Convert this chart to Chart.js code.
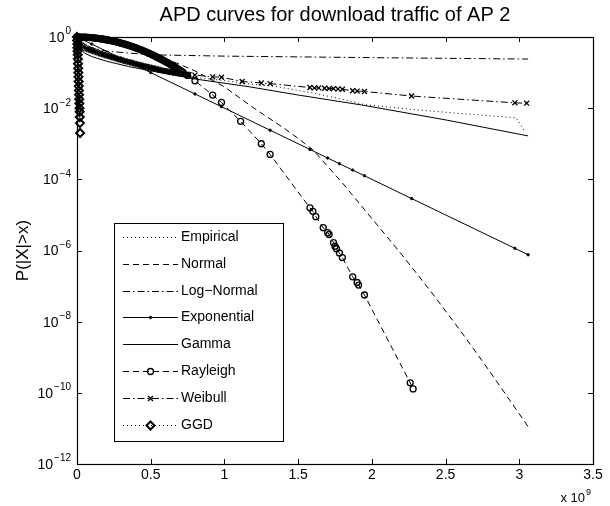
<!DOCTYPE html>
<html><head><meta charset="utf-8">
<script src="https://cdn.jsdelivr.net/npm/chart.js@4.4.0/dist/chart.umd.min.js"></script>
<style>html,body{margin:0;padding:0;background:#fff}canvas{display:block}</style>
</head><body>
<canvas id="c" width="610" height="506"></canvas>
<script>
// ---------- data (x in units of 10^9) ----------
const titleText = 'APD curves for download traffic of AP 2';
const yAxisTitle = 'P(|X|>x)';
const xExponentBase = 'x 10';
const xExponentPower = '9';
const seriesNames = ['Empirical','Normal','Log\u2212Normal','Exponential','Gamma','Rayleigh','Weibull','GGD'];
const xTickValues = [0,0.5,1,1.5,2,2.5,3,3.5];
const xTickLabels = ['0','0.5','1','1.5','2','2.5','3','3.5'];
const yTickValues = [1e-12,1e-10,1e-8,1e-6,1e-4,1e-2,1];
const yTickBase = '10';
const yTickPowers = ['\u221212','\u221210','\u22128','\u22126','\u22124','\u22122','0'];

const empiricalX = [0,0.05,0.15,0.3,0.45,0.63,0.95,1.17,1.33,1.5,1.63,1.8,1.95,2.26,2.6,2.98,3.02,3.04];
const empiricalY = [1,0.631,0.398,0.224,0.141,0.0851,0.0631,0.0479,0.0417,0.0316,0.0251,0.0178,0.0126,0.00933,0.00708,0.00537,0.00282,0.00214];

const normalX = [0,0.2,0.4,0.6,0.8,1.0,1.2,1.4,1.5,1.6,1.8,2.0,2.2,2.4,2.6,2.8,3.06];
const normalY = [1,0.759,0.479,0.251,0.112,0.0398,0.01,0.00282,0.00141,6.76e-4,7.94e-5,7.94e-6,7.94e-7,7.08e-8,5.62e-9,3.98e-10,1.12e-11];

const logNormalX = [0,0.02,0.05,0.1,0.2,0.35,0.5,1.0,2.0,3.06];
const logNormalY = [1,0.794,0.631,0.501,0.40,0.355,0.316,0.29,0.263,0.24];

const exponentialX = [0,0.1,0.3,0.5,0.8,0.98,1.31,1.58,1.70,1.78,1.87,1.95,2.27,2.97,3.06];
const exponentialY = [1,0.631,0.251,0.1,0.0251,0.011,0.0024,6.92e-4,3.98e-4,2.75e-4,1.82e-4,1.26e-4,2.88e-5,1.15e-6,7.59e-7];

const gammaX = [0,0.02,0.05,0.1,0.2,0.35,0.5,0.8,1.17,1.5,1.93,2.5,3.06];
const gammaY = [1,0.501,0.355,0.282,0.209,0.148,0.112,0.0661,0.0398,0.0234,0.0123,0.00468,0.00166];

const rayleighX = [0,0.01,0.02,0.03,0.04,0.05,0.06,0.07,0.08,0.09,0.10,0.11,0.12,0.13,0.14,0.15,0.16,0.17,0.18,0.19,
  0.20,0.21,0.22,0.23,0.24,0.25,0.26,0.27,0.28,0.29,0.30,0.31,0.32,0.33,0.34,0.35,0.36,0.37,0.38,0.39,
  0.40,0.41,0.42,0.43,0.44,0.45,0.46,0.47,0.48,0.49,0.50,0.51,0.52,0.53,0.54,0.55,0.56,0.57,0.58,0.59,
  0.60,0.61,0.62,0.63,0.64,0.65,0.66,0.67,0.68,0.69,0.70,0.71,0.72,
  0.75,0.80,0.92,0.98,1.11,1.25,1.31,1.58,1.60,1.62,1.67,1.70,1.71,1.74,1.75,1.76,1.78,1.80,1.87,1.90,1.91,1.95,2.26,2.28];
const rayleighY = [1,1.0,0.998,0.996,0.993,0.989,0.984,0.979,0.972,0.965,0.957,0.948,0.938,0.928,0.917,0.905,0.893,0.880,0.867,0.852,
  0.838,0.823,0.807,0.791,0.775,0.759,0.742,0.724,0.707,0.690,0.672,0.654,0.636,0.618,0.600,0.582,0.564,0.546,0.528,0.511,
  0.493,0.476,0.459,0.442,0.425,0.409,0.393,0.377,0.361,0.346,0.331,0.317,0.303,0.289,0.276,0.263,0.250,0.238,0.226,0.215,
  0.204,0.193,0.183,0.173,0.164,0.155,0.146,0.137,0.129,0.122,0.115,0.108,0.101,
  0.0832,0.0589,0.0234,0.0145,0.00427,0.001,5.01e-4,1.58e-5,1.26e-5,8.91e-6,4.37e-6,3.16e-6,2.82e-6,1.66e-6,1.32e-6,1.12e-6,8.51e-7,6.31e-7,1.82e-7,1.26e-7,1.07e-7,5.62e-8,1.91e-10,1.29e-10];

const weibullX = [0,0.005,0.01,0.02,0.03,0.04,0.05,0.06,0.07,0.08,0.09,0.10,0.11,0.12,0.13,0.14,0.15,0.16,0.17,0.18,0.19,
  0.20,0.21,0.22,0.23,0.24,0.25,0.26,0.27,0.28,0.29,0.30,0.31,0.32,0.33,0.34,0.35,0.36,0.37,0.38,0.39,
  0.40,0.41,0.42,0.43,0.44,0.45,0.46,0.47,0.48,0.49,0.50,0.51,0.52,0.53,0.54,0.55,0.56,0.57,0.58,0.59,
  0.60,0.61,0.62,0.63,0.64,0.65,0.66,0.67,0.68,0.69,0.70,0.71,0.72,0.73,0.74,0.75,0.76,
  0.80,0.92,0.98,1.12,1.25,1.31,1.58,1.61,1.64,1.68,1.71,1.74,1.77,1.80,1.87,1.90,1.95,2.27,2.97,3.05];
const weibullY = [1,0.794,0.708,0.631,0.589,0.550,0.513,0.479,0.463,0.447,0.432,0.417,0.403,0.389,0.376,0.363,0.351,0.339,0.329,0.320,0.311,
  0.302,0.293,0.285,0.277,0.269,0.261,0.254,0.247,0.240,0.233,0.226,0.220,0.214,0.209,0.204,0.199,0.195,0.189,0.184,0.179,
  0.174,0.170,0.166,0.162,0.158,0.154,0.151,0.148,0.145,0.141,0.138,0.135,0.132,0.129,0.126,0.123,0.120,0.117,0.115,0.113,
  0.111,0.109,0.107,0.105,0.104,0.102,0.100,0.0983,0.0966,0.0950,0.0933,0.0922,0.0912,0.0901,0.0891,0.0881,0.0871,
  0.0851,0.0759,0.0741,0.0562,0.0513,0.0490,0.0380,0.0372,0.0372,0.0363,0.0355,0.0355,0.0347,0.0339,0.0309,0.0302,0.0295,0.0219,0.0141,0.0138];

const ggdX = [0,0.001,0.002,0.003,0.004,0.005,0.006,0.007,0.008,0.009,0.010,0.011,0.012,0.013,0.014,0.015,0.016,0.017,0.018,0.019,0.020,0.021];
const ggdY = [1,0.794,0.631,0.501,0.398,0.316,0.240,0.178,0.132,0.1,0.0759,0.0562,0.0417,0.0316,0.0240,0.0178,0.0135,0.01,0.00794,0.00562,0.00380,0.00200];

// ---------- styling ----------
const FONT = '"Liberation Sans", Arial, Helvetica, sans-serif';
const pts = (xs, ys) => xs.map((x, i) => ({x: x, y: ys[i]}));
const DOT = [1, 3], DASH = [6, 4], DASHDOT = [7, 3, 1.5, 3];
const base = {showLine: true, borderColor: '#000', borderWidth: 1, tension: 0, clip: false,
  pointBorderColor: '#000', pointBackgroundColor: 'rgba(0,0,0,0)', pointRadius: 0, pointHoverRadius: 0};

const datasets = [
  Object.assign({}, base, {label: seriesNames[0], data: pts(empiricalX, empiricalY), borderDash: DOT, order: 8}),
  Object.assign({}, base, {label: seriesNames[1], data: pts(normalX, normalY), borderDash: DASH, order: 7}),
  Object.assign({}, base, {label: seriesNames[2], data: pts(logNormalX, logNormalY), borderDash: DASHDOT, order: 6}),
  Object.assign({}, base, {label: seriesNames[3], data: pts(exponentialX, exponentialY), borderDash: [], pointStyle: 'circle', pointRadius: 1.2, pointBorderWidth: 1, pointBackgroundColor: '#000', order: 5}),
  Object.assign({}, base, {label: seriesNames[4], data: pts(gammaX, gammaY), borderDash: [], order: 4}),
  Object.assign({}, base, {label: seriesNames[5], data: pts(rayleighX, rayleighY), borderDash: DASH, pointStyle: 'circle', pointRadius: 3, pointBorderWidth: 1.3, order: 3}),
  Object.assign({}, base, {label: seriesNames[6], data: pts(weibullX, weibullY), borderDash: DASHDOT, pointStyle: 'crossRot', pointRadius: 3.5, pointBorderWidth: 1.3, order: 2}),
  Object.assign({}, base, {label: seriesNames[7], data: pts(ggdX, ggdY), borderDash: DOT, pointStyle: 'rectRot', pointRadius: 4, pointBorderWidth: 2, order: 1})
];

function drawMarker(ctx, ds, x, y) {
  if (!ds.pointRadius) return;
  const r = ds.pointRadius;
  ctx.save();
  ctx.setLineDash([]);
  ctx.lineWidth = ds.pointBorderWidth || 1;
  ctx.strokeStyle = '#000';
  ctx.fillStyle = ds.pointBackgroundColor;
  ctx.beginPath();
  if (ds.pointStyle === 'circle') {
    ctx.arc(x, y, r, 0, Math.PI * 2);
    ctx.fill(); ctx.stroke();
  } else if (ds.pointStyle === 'crossRot') {
    const d = r * Math.SQRT1_2;
    ctx.moveTo(x - d, y - d); ctx.lineTo(x + d, y + d);
    ctx.moveTo(x - d, y + d); ctx.lineTo(x + d, y - d);
    ctx.stroke();
  } else if (ds.pointStyle === 'rectRot') {
    ctx.moveTo(x, y - r); ctx.lineTo(x + r, y); ctx.lineTo(x, y + r); ctx.lineTo(x - r, y); ctx.closePath();
    ctx.fill(); ctx.stroke();
  }
  ctx.restore();
}

// power-of-ten labels drawn with a real raised exponent
function drawPower(ctx, baseText, powText, rightX, midY, baseSize, powSize) {
  ctx.font = baseSize + 'px ' + FONT;
  const wb = ctx.measureText(baseText).width;
  ctx.font = powSize + 'px ' + FONT;
  const wp = ctx.measureText(powText).width;
  const x0 = rightX - wb - wp - 1;
  ctx.textAlign = 'left';
  ctx.textBaseline = 'middle';
  ctx.font = baseSize + 'px ' + FONT;
  ctx.fillText(baseText, x0, midY);
  ctx.font = powSize + 'px ' + FONT;
  ctx.fillText(powText, x0 + wb + 1, midY - baseSize * 0.45);
}

const framePlugin = {
  id: 'frame',
  afterDatasetsDraw(chart) {
    const {ctx, chartArea: {left, right, top, bottom}, scales: {x, y}} = chart;
    ctx.save();
    ctx.strokeStyle = '#000';
    ctx.lineWidth = 1;
    ctx.setLineDash([]);
    ctx.beginPath();
    xTickValues.forEach(v => {
      const px = Math.round(x.getPixelForValue(v)) + 0.5;
      ctx.moveTo(px, bottom); ctx.lineTo(px, bottom - 5);
      ctx.moveTo(px, top); ctx.lineTo(px, top + 5);
    });
    yTickValues.forEach(v => {
      const py = Math.round(y.getPixelForValue(v)) + 0.5;
      ctx.moveTo(left, py); ctx.lineTo(left + 5, py);
      ctx.moveTo(right, py); ctx.lineTo(right - 5, py);
    });
    ctx.stroke();
    ctx.lineWidth = 1.2;
    ctx.strokeRect(Math.round(left) + 0.5, Math.round(top) + 0.5, Math.round(right - left), Math.round(bottom - top));
    // y tick labels 10^n
    ctx.fillStyle = '#000';
    yTickValues.forEach((v, i) => {
      drawPower(ctx, yTickBase, yTickPowers[i], left - 6, y.getPixelForValue(v) + 1, 14, 10);
    });
    // x-axis multiplier
    drawPower(ctx, xExponentBase, xExponentPower, right - 2, chart.height - 8, 13, 9);
    ctx.restore();
  }
};

const legendPlugin = {
  id: 'boxLegend',
  afterDraw(chart) {
    const {ctx, chartArea} = chart;
    const bx = chartArea.left + 37, by = chartArea.top + 186, bw = 169, bh = 218;
    const rowH = 26.8, firstRow = by + 14;
    ctx.save();
    ctx.fillStyle = '#fff';
    ctx.fillRect(bx, by, bw, bh);
    ctx.strokeStyle = '#000'; ctx.lineWidth = 1;
    ctx.strokeRect(bx + 0.5, by + 0.5, bw, bh);
    ctx.font = '14px ' + FONT;
    ctx.textBaseline = 'middle';
    ctx.textAlign = 'left';
    chart.data.datasets.forEach((ds, i) => {
      const yy = Math.round(firstRow + i * rowH) + 0.5;
      const x0 = bx + 9, x1 = bx + 64;
      ctx.save();
      ctx.strokeStyle = '#000'; ctx.lineWidth = 1;
      ctx.setLineDash(ds.borderDash || []);
      ctx.beginPath(); ctx.moveTo(x0, yy); ctx.lineTo(x1, yy); ctx.stroke();
      ctx.restore();
      drawMarker(ctx, ds, (x0 + x1) / 2, yy);
      ctx.fillStyle = '#000';
      ctx.fillText(ds.label, x1 + 3, yy);
    });
    ctx.restore();
  }
};

new Chart(document.getElementById('c'), {
  type: 'scatter',
  data: {datasets: datasets},
  options: {
    responsive: false, animation: false, devicePixelRatio: 1,
    layout: {padding: {left: 0, right: 17, top: 0, bottom: 0}},
    events: [],
    plugins: {
      legend: {display: false},
      tooltip: {enabled: false},
      title: {display: true, text: titleText, color: '#000', fullSize: false,
        font: {family: FONT, size: 20, weight: 'normal'}, padding: {top: 3, bottom: 10}}
    },
    scales: {
      x: {
        type: 'linear', min: 0, max: 3.5,
        grid: {display: false, drawTicks: false}, border: {display: false},
        ticks: {color: '#000', font: {family: FONT, size: 14}, padding: 3, maxRotation: 0, autoSkip: false,
          callback: (v, i) => xTickLabels[i]},
        afterBuildTicks: s => { s.ticks = xTickValues.map(v => ({value: v})); },
        afterFit: s => { s.height = 42; }
      },
      y: {
        type: 'logarithmic', min: 1e-12, max: 1,
        grid: {display: false, drawTicks: false}, border: {display: false},
        ticks: {display: false},
        afterBuildTicks: s => { s.ticks = yTickValues.map(v => ({value: v})); },
        afterFit: s => { s.width = 77; },
        title: {display: true, text: yAxisTitle, color: '#000',
          font: {family: FONT, size: 17}, padding: {top: 13, bottom: 0}}
      }
    }
  },
  plugins: [framePlugin, legendPlugin]
});
</script>
</body></html>
